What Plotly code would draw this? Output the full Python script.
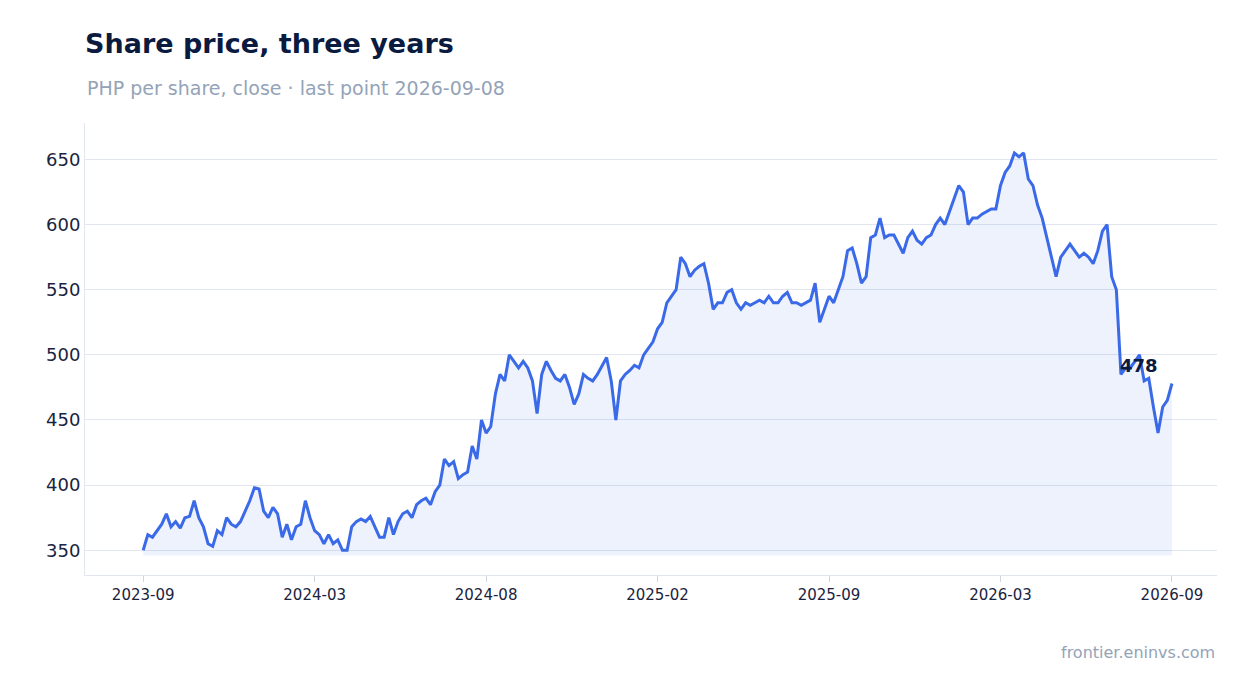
import plotly.graph_objects as go
import pandas as pd

start_date = "2023-09-08"
end_date = "2026-09-08"
close = [350,362,360,365,370,378,368,372,367,375,376,388,375,368,355,353,365,362,375,370,368,372,380,388,398,397,380,375,383,378,360,370,358,368,370,388,375,365,362,355,362,355,358,350,350,368,372,374,372,376,368,360,360,375,362,372,378,380,375,385,388,390,385,395,400,420,415,418,405,408,410,430,420,450,440,445,470,485,480,500,495,490,495,490,480,455,485,495,488,482,480,485,475,462,470,485,482,480,485,492,498,480,450,480,485,488,492,490,500,505,510,520,525,540,545,550,575,570,560,565,568,570,555,535,540,540,548,550,540,535,540,538,540,542,540,545,540,540,545,548,540,540,538,540,542,555,525,535,545,540,550,560,580,582,570,555,560,590,592,605,590,592,592,585,578,590,595,588,585,590,592,600,605,600,610,620,630,625,600,605,605,608,610,612,612,630,640,645,655,652,655,635,630,615,605,590,575,560,575,580,585,580,575,578,575,570,580,595,600,560,550,485,490,490,495,500,480,482,460,440,460,465,478]
tick_labels = ["2023-09","2024-03","2024-08","2025-02","2025-09","2026-03","2026-09"]

dates = pd.date_range(start_date, end_date, periods=len(close))
tick_vals = pd.date_range(start_date, end_date, periods=len(tick_labels))
base = min(close) - 4
line_color = "#3b6ae8"

fig = go.Figure()
fig.add_trace(go.Scatter(x=dates, y=[base]*len(dates), mode="lines",
                         line=dict(width=0), hoverinfo="skip", showlegend=False))
fig.add_trace(go.Scatter(x=dates, y=close, mode="lines", fill="tonexty",
                         fillcolor="rgba(59,106,232,0.09)",
                         line=dict(color=line_color, width=3), showlegend=False))
fig.add_annotation(x=dates[-1], y=close[-1], text="<b>478</b>", showarrow=False,
                   xanchor="right", yanchor="bottom", xshift=-12, yshift=6,
                   font=dict(size=18, color="#0b1a3f", family="DejaVu Sans"))

fig.update_layout(
    width=1247, height=693, plot_bgcolor="white", paper_bgcolor="white",
    margin=dict(l=77, r=38, t=115, b=126),
    font=dict(family="DejaVu Sans", color="#1a2340"),
    title=dict(text="<b>Share price, three years</b>",
               x=77/1247, xanchor="left", y=1-36/693, yanchor="middle",
               font=dict(size=27, color="#0b1a3f")),
    xaxis=dict(range=["2023-07-08", "2026-10-26"], tickvals=tick_vals, ticktext=tick_labels,
               showgrid=False, showline=True, linecolor="#e2e6f0", ticks="outside",
               tickcolor="#cfd5e3", ticklen=6, tickfont=dict(size=15)),
    yaxis=dict(range=[331, 678], dtick=50, gridcolor="#e2e6f0", showline=True,
               linecolor="#e2e6f0", zeroline=False, tickfont=dict(size=18)),
)
fig.add_annotation(text="PHP per share, close · last point 2026-09-08", xref="paper", yref="paper",
                   x=0, y=(567-80)/452, xanchor="left", yanchor="middle", showarrow=False,
                   font=dict(size=19, color="#94a3b8"))
fig.add_annotation(text="frontier.eninvs.com", xref="paper", yref="paper", x=1, y=(567-644)/452,
                   xanchor="right", yanchor="middle", showarrow=False,
                   font=dict(size=16, color="#94a3b8"))
fig.write_html("out.html")
